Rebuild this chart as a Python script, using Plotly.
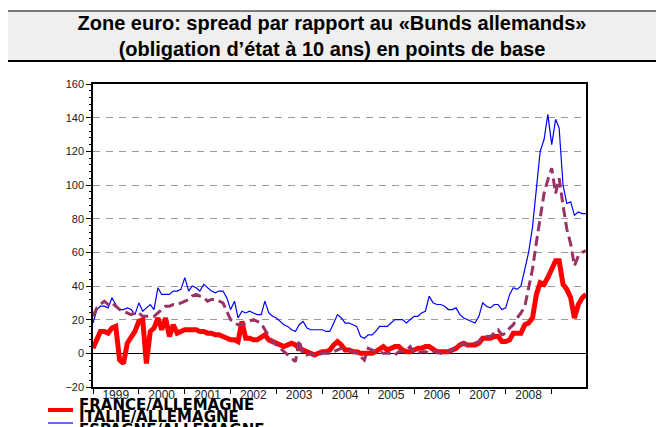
import pandas as pd
import plotly.graph_objects as go

# monthly spreads vs German Bund, basis points, Jan 1999 - Oct 2009
months = pd.date_range("1999-01-01", periods=130, freq="MS")

france = [3, 8, 13, 13, 12, 15, 16, -4, -6, 6, 9, 13,
          19, 20, -6, 13, 15, 21, 14, 21, 10, 17, 12, 13,
          14, 14, 14, 14, 13, 13, 12, 12, 11, 11, 10, 9,
          8, 8, 7, 19, 9, 9, 8, 8, 10, 11, 8, 7,
          6, 5, 4, 5, 6, 5, 3, 2, 1, 0, -1, 0,
          1, 1, 2, 5, 7, 5, 2, 2, 1, 1, 0, 0,
          0, 0, 1, 3, 4, 2, 3, 4, 4, 2, 1, 1,
          2, 3, 3, 4, 4, 2, 1, 1, 1, 1, 2, 3,
          5, 6, 5, 5, 5, 6, 9, 9, 9, 10, 10, 7,
          7, 8, 12, 12, 12, 17, 18, 21, 35, 42, 41, 45,
          51, 55, 55, 41, 38, 33, 21, 29, 33, 35]

italie = [18, 26, 28, 28, 27, 33, 29, 26, 26, 27, 26, 23,
          30, 25, 27, 29, 26, 39, 35, 35, 35, 37, 37, 38,
          45, 37, 40, 39, 37, 41, 39, 37, 36, 37, 37, 33,
          26, 31, 21, 25, 24, 25, 24, 23, 23, 31, 24, 22,
          21, 19, 17, 16, 14, 13, 17, 19, 15, 14, 14, 14,
          14, 13, 13, 18, 23, 21, 18, 18, 17, 16, 10, 9,
          11, 11, 13, 16, 16, 16, 18, 20, 20, 20, 18, 20,
          22, 22, 24, 25, 34, 30, 29, 29, 28, 26, 26, 27,
          23, 21, 20, 19, 18, 22, 30, 28, 27, 29, 29, 26,
          27, 35, 39, 38, 40, 50, 60, 75, 97, 120, 127, 142,
          124, 139, 134, 100, 89, 90, 82, 84, 83, 83]

espagne = [22, 27, 29, 31, 29, 30, 28, 26, 25, 24, 23, 24,
           24, 22, 22, 22, 22, 24, 26, 28, 28, 29, 29, 30,
           31, 32, 34, 35, 34, 33, 31, 32, 32, 31, 30, 25,
           20, 18, 17, 17, 18, 19, 20, 19, 18, 14, 10, 7,
           5, 3, 1, -1, -3, -5, 8, -1, -1, 0, -1, -1,
           0, 0, 0, 1, 2, 3, 3, 2, 1, 0, -2, -4,
           3, 2, 1, 1, 0, 0, 0, -1, 1, 1, 2, 4,
           0, 0, 1, 1, 0, 1, 1, 0, 1, 1, 2, 4,
           5, 6, 5, 5, 6, 7, 10, 10, 10, 12, 14, 11,
           12, 15, 17, 21, 24, 28, 39, 50, 66, 80, 95, 103,
           110, 95, 104, 88, 74, 65, 52, 58, 60, 61]

series_names = ["FRANCE/ALLEMAGNE", "ITALIE/ALLEMAGNE", "ESPAGNE/ALLEMAGNE"]
series_values = [france, italie, espagne]
year_labels = [str(y) for y in range(1999, 2009)]

colors = ["#ff0000", "#0000ff", "#993366"]
widths = [5, 1.2, 3]
dashes = ["solid", "solid", "10px,5px"]

# the page body has an 8px margin, so the figure is drawn 8px smaller and
# every position below is given in page pixels and shifted back by OFF
OFF = 8
W, H = 664 - OFF, 427 - OFF
ML, MR, MT, MB = 93 - OFF, 78, 84 - OFF, 40
pw, ph = W - ML - MR, H - MT - MB


def px(x):
    return (x - OFF - ML) / pw


def py(y):
    return (H - MB - (y - OFF)) / ph


fig = go.Figure()
for name, vals, c, w, d in zip(series_names, series_values, colors, widths, dashes):
    fig.add_trace(go.Scatter(x=months, y=vals, mode="lines", name=name,
                             line=dict(color=c, width=w, dash=d), showlegend=False))

font = "Liberation Sans, Arial, sans-serif"

# title box and frame
shapes = [
    dict(type="rect", xref="paper", yref="paper", x0=px(5), x1=px(680), y0=py(61), y1=py(11),
         fillcolor="#efefef", line=dict(color="black", width=1.2), layer="below"),
    dict(type="line", xref="paper", yref="paper", x0=px(5), x1=px(680), y0=py(61), y1=py(61),
         line=dict(color="black", width=2.2)),
    dict(type="line", xref="paper", yref="paper", x0=px(5), x1=px(5), y0=py(61), y1=py(440),
         line=dict(color="black", width=1.5)),
]

# hand-made legend (rows overlap like the original)
annotations = []
row_y = [405, 417.3, 429.6]
sample_y = [410, 423, 436]
for i, name in enumerate(series_names):
    annotations.append(dict(xref="paper", yref="paper", x=px(77), y=py(row_y[i]),
                            xanchor="left", yanchor="middle", showarrow=False, text=name,
                            font=dict(family="DejaVu Sans, Liberation Sans, sans-serif",
                                      size=15, color="black", weight="bold")))
    shapes.append(dict(type="line", xref="paper", yref="paper", x0=px(48), x1=px(73),
                       y0=py(sample_y[i]), y1=py(sample_y[i]),
                       line=dict(color=colors[i], width=widths[i] - (1 if i == 0 else 0), dash=dashes[i])))

fig.update_layout(
    width=W, height=H,
    margin=dict(l=ML, r=MR, t=MT, b=MB),
    paper_bgcolor="white", plot_bgcolor="white",
    title=dict(text="Zone euro: spread par rapport au «Bunds allemands»<br>(obligation d’état à 10 ans) en points de base",
               x=(332 - OFF) / W, xref="container", xanchor="center",
               y=1 - 22 / H, yref="container", yanchor="middle",
               font=dict(family=font, size=20, color="black", weight="bold")),
    shapes=shapes,
    annotations=annotations,
    font=dict(family=font, size=11, color="#222"),
)

fig.update_xaxes(
    type="date", range=["1999-01-01", "2009-10-01"],
    tickmode="array", tickvals=[f"{y}-07-01" for y in year_labels], ticktext=year_labels,
    ticks="", showgrid=False, zeroline=False, ticklabelstandoff=-4,
    showline=True, linecolor="black", linewidth=1.5, mirror=True,
    minor=dict(tickmode="array", tickvals=[f"{y}-01-01" for y in range(1999, 2010)],
               ticks="outside", ticklen=5, tickcolor="black", tickwidth=1, showgrid=False),
    tickfont=dict(size=12, color="#222"),
)

fig.update_yaxes(
    range=[-20, 160], dtick=20, tick0=0,
    ticks="outside", ticklen=5, tickcolor="black", tickwidth=1,
    showline=True, linecolor="black", linewidth=1.5, mirror=True,
    showgrid=True, gridcolor="#9a9a9a", gridwidth=1, griddash="7px,6px",
    zeroline=True, zerolinecolor="black", zerolinewidth=1,
    minor=dict(dtick=4, ticks="outside", ticklen=2.5, tickcolor="black", showgrid=False),
    tickfont=dict(size=11, color="#222"),
)

fig.write_html("out.html")
